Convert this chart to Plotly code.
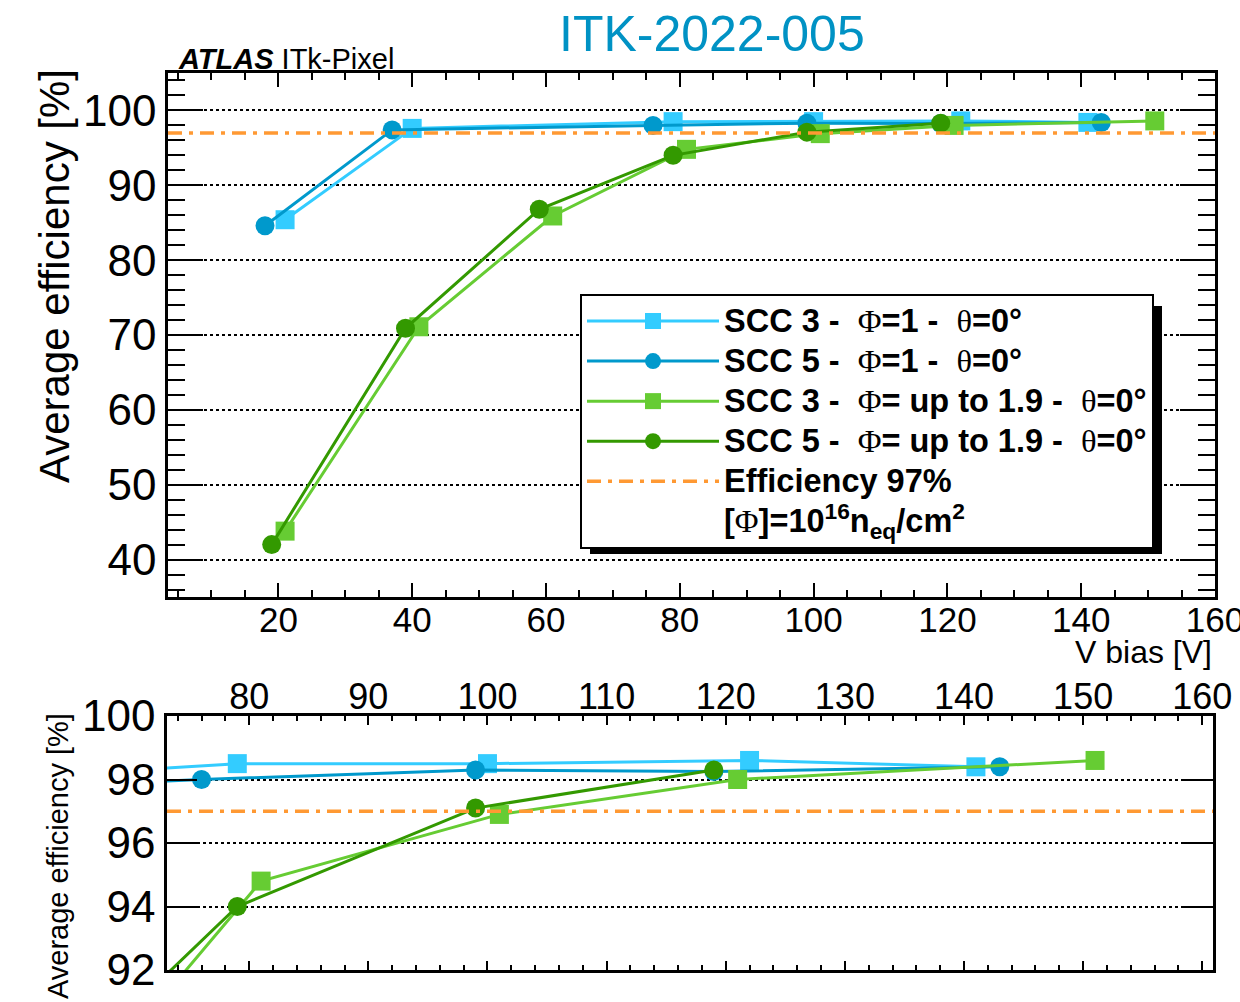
import plotly.graph_objects as go

# ---- measured efficiencies vs bias voltage ----
v_scc3_phi1 = [21, 40, 79, 100, 122, 141]
e_scc3_phi1 = [85.4, 97.6, 98.5, 98.5, 98.6, 98.4]

v_scc5_phi1 = [18, 37, 76, 99, 119, 143]
e_scc5_phi1 = [84.6, 97.4, 98.0, 98.3, 98.25, 98.4]

v_scc3_phi19 = [21, 41, 61, 81, 101, 121, 151]
e_scc3_phi19 = [43.8, 71.1, 85.9, 94.8, 96.9, 98.0, 98.6]

v_scc5_phi19 = [19, 39, 59, 79, 99, 119]
e_scc5_phi19 = [42.0, 70.9, 86.8, 94.0, 97.1, 98.3]

eff_threshold = 97.0

# legend labels: bold Helvetica-like text with serif Greek symbols
SYM = '<span style="font-family:Liberation Serif, DejaVu Serif, serif">'
BIG = '<span style="font-size:32.5px">'
series_names = [
    f"{BIG}<b>SCC 3 -  </b>{SYM}Φ</span><b>=1 -  </b>{SYM}θ</span><b>=0°</b></span>",
    f"{BIG}<b>SCC 5 -  </b>{SYM}Φ</span><b>=1 -  </b>{SYM}θ</span><b>=0°</b></span>",
    f"{BIG}<b>SCC 3 -  </b>{SYM}Φ</span><b>= up to 1.9 -  </b>{SYM}θ</span><b>=0°</b></span>",
    f"{BIG}<b>SCC 5 -  </b>{SYM}Φ</span><b>= up to 1.9 -  </b>{SYM}θ</span><b>=0°</b></span>",
]
threshold_name = f"{BIG}<b>Efficiency 97%</b></span>"
fluence_unit = (f"{BIG}<b>[</b>{SYM}Φ</span>"
                "<b>]=10<sup>16</sup>n<sub>eq</sub>/cm<sup>2</sup></b></span>")

# axis ranges
top_x_range = [3.5, 160]
top_y_range = [35, 105]
bot_x_range = [73.1, 160.9]
bot_y_range = [92, 100]

W, H = 1240, 1002
FONT = "Liberation Sans, Arial, Helvetica, sans-serif"


def fx(px):
    return px / W


def fy(px):
    return 1 - px / H


series = [
    (v_scc3_phi1, e_scc3_phi1, "#33ccff", "square"),
    (v_scc5_phi1, e_scc5_phi1, "#0099cc", "circle"),
    (v_scc3_phi19, e_scc3_phi19, "#66cc33", "square"),
    (v_scc5_phi19, e_scc5_phi19, "#339900", "circle"),
]

fig = go.Figure()

for panel, (xa, ya) in enumerate([("x", "y"), ("x2", "y2")]):
    for (v, e, col, sym), name in zip(series, series_names):
        fig.add_trace(go.Scatter(
            x=v, y=e, mode="lines+markers", name=name,
            xaxis=xa, yaxis=ya, showlegend=(panel == 0),
            line=dict(color=col, width=3),
            marker=dict(color=col, symbol=sym, size=19),
        ))
    xr = top_x_range if panel == 0 else bot_x_range
    fig.add_trace(go.Scatter(
        x=xr, y=[eff_threshold, eff_threshold], mode="lines",
        name=threshold_name, xaxis=xa, yaxis=ya, showlegend=(panel == 0),
        line=dict(color="#ff9933", width=3.5, dash="14px,7px,4px,7px"),
    ))

# unit note shown as a legend row without a symbol
fig.add_trace(go.Scatter(
    x=[None], y=[None], mode="lines", name=fluence_unit,
    line=dict(color="rgba(0,0,0,0)", width=0),
))

axis_common = dict(
    showline=True, linecolor="black", linewidth=2.5, mirror="ticks",
    ticks="inside", tickcolor="black", tickwidth=2,
    zeroline=False, color="black", automargin=False,
    ticklabeloverflow="allow",
)

fig.update_layout(
    width=W, height=H,
    margin=dict(l=0, r=0, t=0, b=0, autoexpand=False),
    paper_bgcolor="white", plot_bgcolor="white",
    font=dict(family=FONT, color="black"),
    xaxis=dict(
        domain=[fx(168), fx(1215)], range=top_x_range, anchor="y",
        tick0=0, dtick=20, ticklen=14, showgrid=False,
        tickfont=dict(size=35), ticklabelstandoff=-10,
        minor=dict(dtick=5, ticklen=7, ticks="inside", tickcolor="black",
                   tickwidth=2, showgrid=False),
        **axis_common,
    ),
    yaxis=dict(
        domain=[fy(597), fy(73)], range=top_y_range, anchor="x",
        tick0=0, dtick=10, ticklen=35,
        showgrid=True, gridcolor="black", gridwidth=2, griddash="dot",
        tickfont=dict(size=44),
        minor=dict(dtick=2, ticklen=17, ticks="inside", tickcolor="black",
                   tickwidth=2, showgrid=False),
        **axis_common,
    ),
    xaxis2=dict(
        domain=[fx(167), fx(1213)], range=bot_x_range, anchor="y2",
        side="top", tick0=0, dtick=10, ticklen=9, showgrid=False,
        tickfont=dict(size=36), ticklabelstandoff=-10,
        minor=dict(dtick=2, ticklen=5, ticks="inside", tickcolor="black",
                   tickwidth=2, showgrid=False),
        **axis_common,
    ),
    yaxis2=dict(
        domain=[fy(970), fy(716)], range=bot_y_range, anchor="x2",
        tick0=0, dtick=2, ticklen=30,
        showgrid=True, gridcolor="black", gridwidth=2, griddash="dot",
        tickfont=dict(size=44),
        **axis_common,
    ),
    legend=dict(
        x=fx(580), y=fy(294), xanchor="left", yanchor="top",
        bgcolor="white", bordercolor="black", borderwidth=2,
        font=dict(size=28.5, family=FONT, color="black"),
        itemwidth=132, itemsizing="trace", tracegroupgap=0,
    ),
    showlegend=True,
)

# drop shadow behind the legend box
fig.add_shape(type="rect", xref="paper", yref="paper",
              x0=fx(590), x1=fx(1162), y0=fy(554), y1=fy(306),
              fillcolor="black", line=dict(width=0), layer="above")

fig.add_annotation(text="ITK-2022-005", xref="paper", yref="paper",
                   x=fx(712), y=fy(34), xanchor="center", yanchor="middle",
                   showarrow=False, font=dict(size=50, color="#0092c4", family=FONT))
fig.add_annotation(text="<b><i>ATLAS</i></b> ITk-Pixel", xref="paper", yref="paper",
                   x=fx(176), y=fy(59), xanchor="left", yanchor="middle",
                   showarrow=False, font=dict(size=29, family=FONT))
fig.add_annotation(text="Average efficiency [%]", xref="paper", yref="paper",
                   x=fx(55), y=fy(276), xanchor="center", yanchor="middle",
                   textangle=-90, showarrow=False, font=dict(size=42, family=FONT))
fig.add_annotation(text="V bias [V]", xref="paper", yref="paper",
                   x=fx(1214), y=fy(652), xanchor="right", yanchor="middle",
                   showarrow=False, font=dict(size=32, family=FONT))
fig.add_annotation(text="Average efficiency [%]", xref="paper", yref="paper",
                   x=fx(58), y=fy(856), xanchor="center", yanchor="middle",
                   textangle=-90, showarrow=False, font=dict(size=29, family=FONT))

fig.write_html("out.html")
